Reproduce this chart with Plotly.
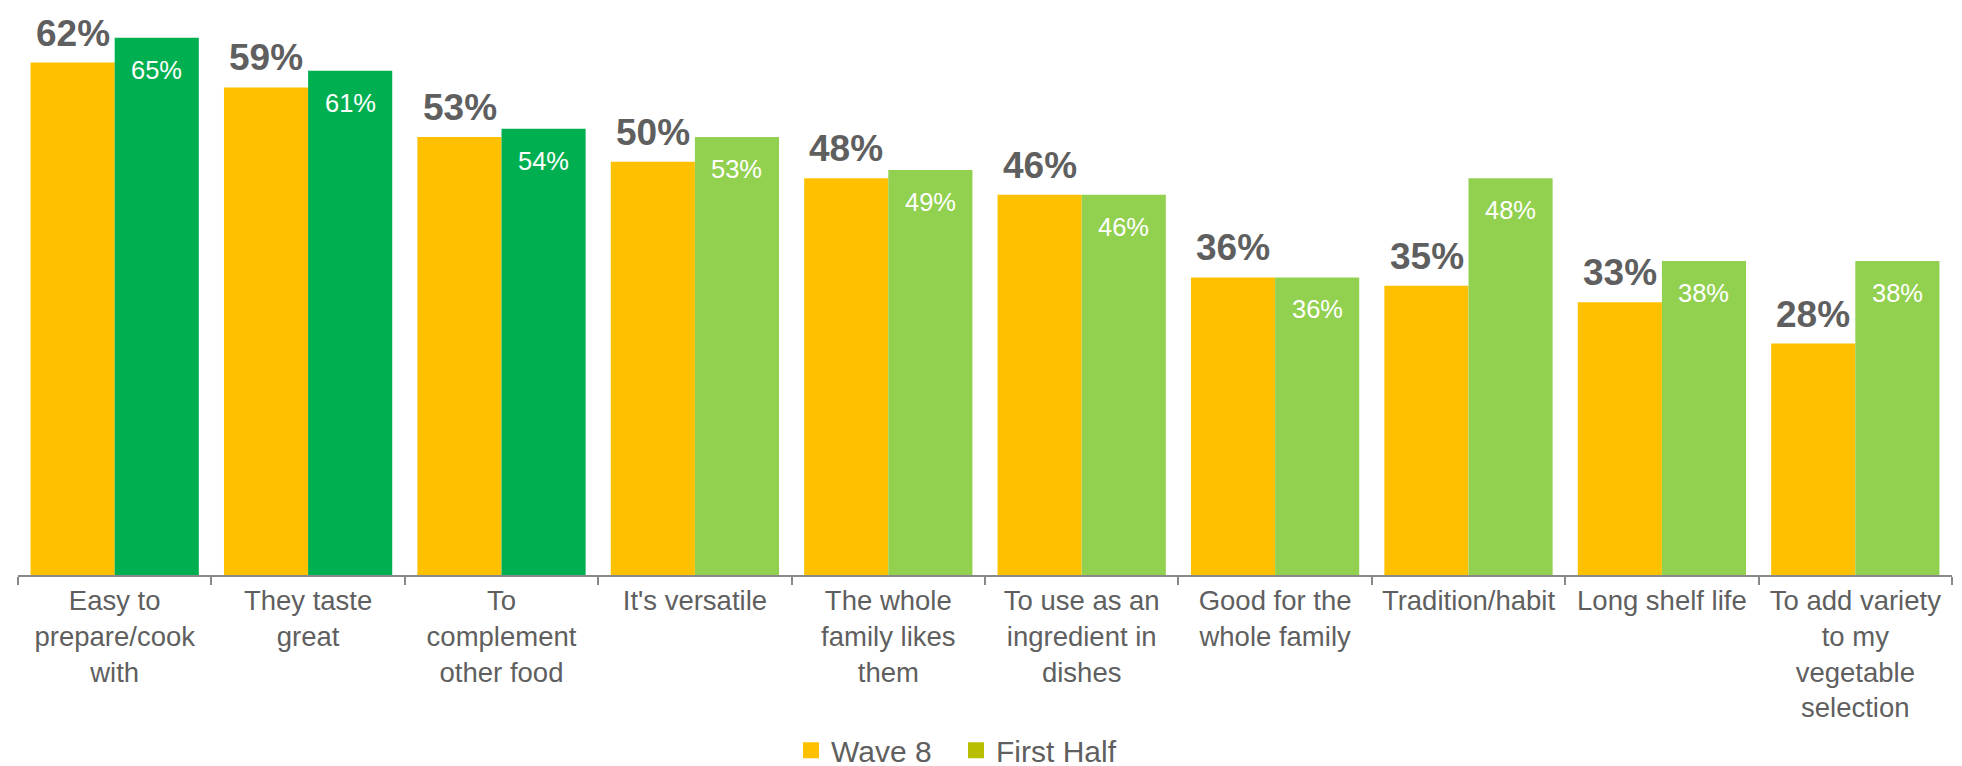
import plotly.graph_objects as go

categories = [
    "Easy to<br>prepare/cook<br>with",
    "They taste<br>great",
    "To<br>complement<br>other food",
    "It's versatile",
    "The whole<br>family likes<br>them",
    "To use as an<br>ingredient in<br>dishes",
    "Good for the<br>whole family",
    "Tradition/habit",
    "Long shelf life",
    "To add variety<br>to my<br>vegetable<br>selection",
]
wave8 = [62, 59, 53, 50, 48, 46, 36, 35, 33, 28]
first_half = [65, 61, 54, 53, 49, 46, 36, 48, 38, 38]
first_half_colors = ["#00B050"] * 3 + ["#92D050"] * 7

YELLOW = "#FFC000"
LEGEND_GREEN = "#B9BF00"
GRAY = "#5f5f5f"
FONT = "Liberation Sans, Arial, sans-serif"

fig = go.Figure()
fig.add_trace(go.Bar(x=categories, y=wave8, name="Wave 8", marker_color=YELLOW,
                     marker_line_width=0, showlegend=False))
fig.add_trace(go.Bar(x=categories, y=first_half, name="First Half",
                     marker_color=first_half_colors, marker_line_width=0, showlegend=False))
# legend entries
fig.add_trace(go.Scatter(x=[None], y=[None], mode="markers", name="Wave 8",
                         marker=dict(symbol="square", size=16, color=YELLOW)))
fig.add_trace(go.Scatter(x=[None], y=[None], mode="markers", name="First Half",
                         marker=dict(symbol="square", size=16, color=LEGEND_GREEN)))

annotations = []
for c, v in zip(categories, wave8):
    annotations.append(dict(x=c, y=v, xref="x", yref="y", text=f"{v}%", showarrow=False,
                            xshift=-42, yshift=7, yanchor="bottom",
                            font=dict(family=FONT, size=37, color=GRAY, weight="bold")))
for c, v in zip(categories, first_half):
    annotations.append(dict(x=c, y=v, xref="x", yref="y", text=f"{v}%", showarrow=False,
                            xshift=42, yshift=-16, yanchor="top",
                            font=dict(family=FONT, size=25.5, color="white")))

fig.update_layout(
    width=1962, height=766,
    margin=dict(l=10, r=18, t=5, b=198.5, autoexpand=False),
    barmode="group", bargap=0.13, bargroupgap=0,
    plot_bgcolor="white", paper_bgcolor="white",
    font=dict(family=FONT, color=GRAY),
    annotations=annotations,
    legend=dict(orientation="h", x=0.485, xanchor="center", y=-0.312, yanchor="middle",
                font=dict(family=FONT, size=30, color=GRAY), itemsizing="trace",
                entrywidth=120, entrywidthmode="pixels"),
    xaxis=dict(showline=True, linecolor="#898989", linewidth=2, ticks="outside",
               ticklen=8, tickwidth=2, tickcolor="#898989", tickson="boundaries",
               tickfont=dict(family=FONT, size=27.5, color=GRAY), showgrid=False,
               tickangle=0, automargin=False),
    yaxis=dict(visible=False, range=[0, 68], showgrid=False, zeroline=False),
)

fig.write_html("out.html")
